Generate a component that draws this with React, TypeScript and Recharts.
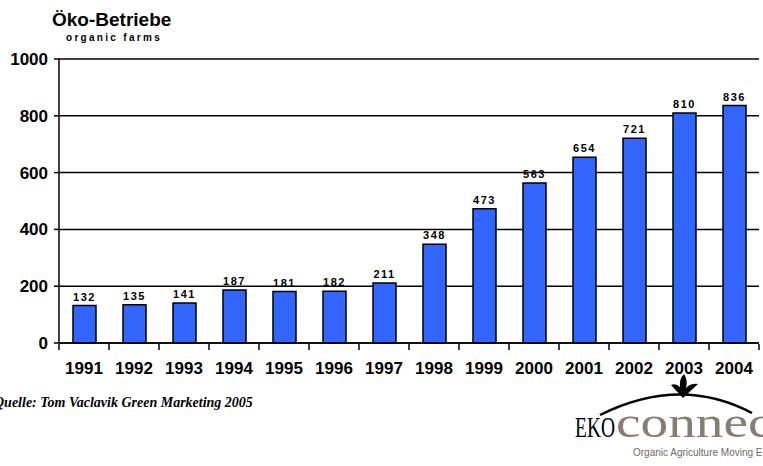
import React from 'react';
import { BarChart, Bar, XAxis, YAxis, CartesianGrid, LabelList } from 'recharts';

const years = ['1991', '1992', '1993', '1994', '1995', '1996', '1997', '1998', '1999', '2000', '2001', '2002', '2003', '2004'];
const farms = [132, 135, 141, 187, 181, 182, 211, 348, 473, 563, 654, 721, 810, 836];
const yTicks = [0, 200, 400, 600, 800, 1000];
const boundaryTicks = [0, 1, 2, 3, 4, 5, 6, 7, 8, 9, 10, 11, 12, 13, 14];

const data = years.map((y, i) => ({ year: y, farms: farms[i], pos: i + 0.5 }));

const SANS = "Arial, 'Liberation Sans', sans-serif";
const SERIF = "'Times New Roman', 'Liberation Serif', serif";

export default function App() {
  return (
    <div style={{ position: 'absolute', left: 0, top: 0, width: 763, height: 466, background: '#fff', overflow: 'hidden' }}>
      <BarChart
        width={763}
        height={466}
        data={data}
        margin={{ top: 59, right: 4, left: 0, bottom: 121 }}
      >
        <CartesianGrid vertical={false} stroke="#000" strokeWidth={1.5} />
        <XAxis
          xAxisId="grid"
          type="number"
          dataKey="pos"
          domain={[0, years.length]}
          allowDataOverflow
          ticks={boundaryTicks}
          interval={0}
          height={1}
          axisLine={false}
          tickLine={{ stroke: '#000', strokeWidth: 1.5 }}
          tickSize={6}
          tickFormatter={() => ''}
        />
        <XAxis
          dataKey="year"
          height={1}
          interval={0}
          axisLine={{ stroke: '#000', strokeWidth: 1.5 }}
          tickLine={false}
          tickSize={0}
          tickMargin={19}
          tick={{ fill: '#000', fontSize: 17, fontWeight: 'bold', fontFamily: SANS }}
        />
        <YAxis
          width={59}
          domain={[0, 1000]}
          ticks={yTicks}
          interval={0}
          axisLine={{ stroke: '#000', strokeWidth: 1.5 }}
          tickLine={{ stroke: '#000', strokeWidth: 1.5 }}
          tickSize={5}
          tickMargin={6}
          tick={{ fill: '#000', fontSize: 17, fontWeight: 'bold', fontFamily: SANS }}
        />
        <YAxis
          yAxisId="right"
          orientation="right"
          width={0}
          domain={[0, 1000]}
          tick={false}
          tickLine={false}
          axisLine={{ stroke: '#000', strokeWidth: 1.5 }}
        />
        <Bar dataKey="farms" fill="#3366FF" stroke="#000" strokeWidth={1.5} barSize={23} isAnimationActive={false}>
          <LabelList
            dataKey="farms"
            position="top"
            offset={5}
            style={{ fill: '#000', fontSize: 11, fontWeight: 'bold', fontFamily: SANS, letterSpacing: 1.5 }}
          />
        </Bar>
      </BarChart>
      <svg
        width={763}
        height={466}
        style={{ position: 'absolute', left: 0, top: 0, pointerEvents: 'none' }}
      >
        <text x={52} y={26} fontFamily={SANS} fontWeight="bold" fontSize={19} fill="#000">Öko-Betriebe</text>
        <text x={66} y={41} fontFamily={SANS} fontWeight="bold" fontSize={10} letterSpacing={2.3} fill="#000">organic farms</text>
        <text x={-6} y={407} fontFamily={SERIF} fontWeight="bold" fontStyle="italic" fontSize={14} fill="#000">Quelle: Tom Vaclavik Green Marketing 2005</text>
        <path d="M600,415 Q680,375 752,413" fill="none" stroke="#000" strokeWidth={2.5} />
        <path d="M683,398 L671,385 Q676,383 680,387 Q679,379 684,374 Q688,380 686,388 Q691,383 698,384 Z" fill="#000" />
        <text x={575} y={437} fontFamily={SERIF} fontSize={29} fill="#000" textLength={40} lengthAdjust="spacingAndGlyphs">EKO</text>
        <text x={616} y={437} fontFamily={SERIF} fontSize={44} fill="#867e73" textLength={172} lengthAdjust="spacingAndGlyphs">connect</text>
        <text x={633} y={456} fontFamily={SANS} fontSize={10} fill="#6f6a63">Organic Agriculture Moving Europe</text>
      </svg>
    </div>
  );
}
